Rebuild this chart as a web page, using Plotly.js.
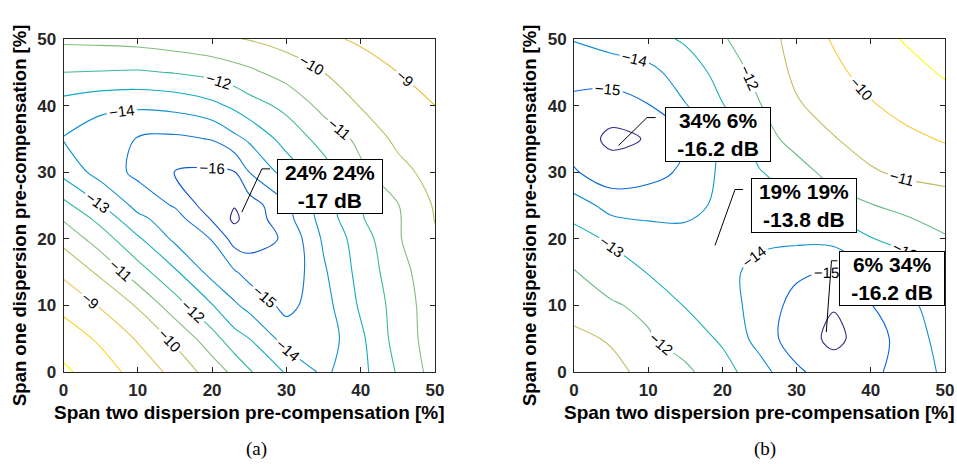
<!DOCTYPE html>
<html><head><meta charset="utf-8">
<script src="https://cdn.plot.ly/plotly-3.0.1.min.js"></script>
<style>html,body{margin:0;padding:0;background:#fff}#chart{width:957px;height:464px}</style>
</head><body><div id="chart"></div>
<script>
// ---------- data ----------
// (a) span two (x) / span one (y) dispersion pre-compensation [%], loss in dB
const spanTwoA = [0, 5, 10, 15, 20, 23, 25, 30, 35, 40, 45, 50];
const spanOneA = [0, 5, 10, 15, 20, 23, 25, 30, 35, 40, 45, 50];
const lossA = [
  [-6.8, -7.55, -8.35, -9.3, -10.45, -11.25, -11.9, -13.1, -14.2, -13.3, -11.9, -10.6],
  [-7.5, -8.15, -9.1, -10.2, -11.6, -12.6, -13.0, -14.4, -14.6, -13.2, -11.6, -10.5],
  [-8.25, -9.1, -10.1, -11.55, -12.95, -13.85, -14.3, -15.3, -14.4, -12.85, -11.6, -10.4],
  [-9.2, -10.2, -11.55, -12.85, -14.35, -14.9, -15.35, -15.8, -14.15, -12.65, -11.4, -10.3],
  [-10.3, -11.5, -12.85, -14.2, -15.05, -16.4, -16.5, -15.85, -13.85, -12.5, -11.1, -10.1],
  [-11.1, -12.3, -13.75, -14.55, -16.1, -17.2, -16.6, -15.35, -13.6, -12.1, -11.1, -9.97],
  [-11.7, -12.95, -14.3, -15.1, -16.6, -16.95, -16.5, -15.2, -13.4, -12.0, -11.05, -9.9],
  [-13.3, -14.4, -15.25, -16.05, -16.15, -16.05, -15.0, -13.6, -12.4, -11.2, -10.35, -9.6],
  [-14.05, -14.6, -15.05, -15.2, -14.95, -14.25, -13.85, -12.6, -11.65, -10.75, -9.75, -9.3],
  [-13.4, -13.75, -13.85, -13.7, -13.25, -12.8, -12.4, -11.75, -10.7, -9.95, -9.45, -9.0],
  [-12.0, -12.05, -12.1, -11.95, -11.7, -11.4, -11.2, -10.6, -10.0, -9.5, -9.0, -8.6],
  [-10.8, -10.75, -10.65, -10.45, -10.2, -10.05, -9.95, -9.6, -9.2, -8.85, -8.55, -8.2]
];
// (b)
const spanTwoB = [0, 5, 10, 15, 20, 25, 30, 35, 40, 45, 50];
const spanOneB = [0, 5, 10, 15, 20, 25, 30, 35, 40, 45, 50];
const lossB = [
  [-10.4, -10.7, -11.3, -11.8, -12.6, -13.6, -14.8, -15.6, -15.25, -14.5, -13.85],
  [-10.75, -11.1, -11.9, -12.45, -13.15, -14.35, -15.6, -16.2, -15.6, -14.4, -13.7],
  [-11.4, -11.9, -12.2, -13.05, -13.65, -14.3, -15.4, -15.95, -15.05, -14.25, -13.4],
  [-11.95, -12.45, -13.05, -13.35, -13.85, -14.15, -14.8, -15.0, -14.05, -13.6, -12.85],
  [-12.6, -13.15, -13.65, -13.85, -13.8, -13.9, -13.8, -13.7, -13.05, -12.6, -12.1],
  [-13.5, -14.35, -14.3, -14.15, -13.9, -13.55, -13.05, -12.6, -12.05, -11.7, -11.4],
  [-14.9, -15.6, -15.4, -14.8, -13.8, -13.05, -12.55, -11.5, -11.1, -10.8, -10.7],
  [-15.5, -16.2, -15.95, -15.0, -13.7, -12.6, -11.5, -11.05, -10.6, -10.25, -9.9],
  [-15.3, -15.6, -15.05, -14.05, -13.05, -12.05, -11.1, -10.6, -10.1, -9.6, -9.35],
  [-14.6, -14.4, -14.25, -13.6, -12.6, -11.7, -10.8, -10.25, -9.6, -9.3, -8.9],
  [-13.95, -13.7, -13.4, -12.85, -12.1, -11.4, -10.7, -9.9, -9.35, -8.9, -8.75]
];
const tickValues = [0, 10, 20, 30, 40, 50];
const tickLabels = ["0", "10", "20", "30", "40", "50"];
// data tips (span two x, span one y) and their texts
const tipAX = [24];
const tipAY = [24];
const tipAText = ["24% 24%<br>-17 dB"];
const tipBX = [6, 19, 34];
const tipBY = [34, 19, 6];
const tipBText = ["34% 6%<br>-16.2 dB", "19% 19%<br>-13.8 dB", "6% 34%<br>-16.2 dB"];

// ---------- layout helpers (positions / styles) ----------
const sans = 'Liberation Sans, Arial, sans-serif';
const parula = [
  [0, 'rgb(53,42,135)'], [0.125, 'rgb(3,99,225)'], [0.25, 'rgb(20,133,212)'],
  [0.375, 'rgb(6,167,198)'], [0.5, 'rgb(56,185,158)'], [0.625, 'rgb(146,191,115)'],
  [0.75, 'rgb(217,186,86)'], [0.875, 'rgb(252,206,46)'], [1, 'rgb(249,251,14)']
];
function contour(x, y, z, lo, hi, xa, ya) {
  return {
    type: 'contour', x: x, y: y, z: z, xaxis: xa, yaxis: ya,
    colorscale: parula, zauto: false, zmin: lo, zmax: hi, showscale: false,
    autocontour: false,
    contours: {start: lo, end: hi, size: 1, coloring: 'lines', showlabels: true,
      labelfont: {family: sans, size: 15, color: '#000'}},
    line: {width: 1.1, smoothing: 1}, hoverinfo: 'skip'
  };
}
const axBase = {
  range: [0, 50], tickvals: tickValues, ticktext: tickLabels, ticks: 'inside', ticklen: 5,
  tickwidth: 1, tickcolor: '#262626', showline: true, linecolor: '#262626', linewidth: 1,
  mirror: 'allticks', showgrid: false, zeroline: false, fixedrange: true,
  tickfont: {family: sans, size: 17, color: '#262626', weight: 'bold'}, ticklabelstandoff: 3
};
const yDom = [1 - 372 / 464, 1 - 39 / 464];
const layout = {
  width: 957, height: 464, margin: {l: 0, r: 0, t: 0, b: 0},
  paper_bgcolor: '#fff', plot_bgcolor: '#fff', showlegend: false,
  xaxis: Object.assign({}, axBase, {domain: [63.5 / 957, 435 / 957], anchor: 'y'}),
  yaxis: Object.assign({}, axBase, {domain: yDom, anchor: 'x'}),
  xaxis2: Object.assign({}, axBase, {domain: [574 / 957, 945 / 957], anchor: 'y2'}),
  yaxis2: Object.assign({}, axBase, {domain: yDom, anchor: 'x2'}),
  shapes: [], annotations: []
};
// box centre and elbow positions for the data-tip callouts (layout only)
const boxA = [{cx: 35.9, cy: 27.9, kx: 26.7, ex: 27.8, ky: 30.5}];
const boxB = [
  {cx: 19.4, cy: 35.6, kx: 9.84, ex: 11.0, ky: 38.2},
  {cx: 31.0, cy: 25.0, kx: 21.7, ex: 22.8, ky: 27.4},
  {cx: 42.9, cy: 14.0, kx: 34.7, ex: 35.5, ky: 16.7}
];
function addCallouts(tx, ty, txt, boxes, xr, yr) {
  tx.forEach(function (x, i) {
    const b = boxes[i];
    layout.shapes.push({type: 'path', xref: xr, yref: yr,
      path: 'M ' + x + ',' + ty[i] + ' L ' + b.kx + ',' + b.ky + ' L ' + b.ex + ',' + b.ky,
      line: {color: '#000', width: 1}});
    layout.annotations.push({xref: xr, yref: yr, x: b.cx, y: b.cy, text: txt[i], showarrow: false,
      font: {family: sans, size: 21, color: '#000', weight: 'bold'}, align: 'center',
      bgcolor: '#fff', bordercolor: '#000', borderwidth: 1, borderpad: 1, width: 102, height: 51});
  });
}
addCallouts(tipAX, tipAY, tipAText, boxA, 'x', 'y');
addCallouts(tipBX, tipBY, tipBText, boxB, 'x2', 'y2');

function txt(text, px, py, size, opts) {
  return Object.assign({xref: 'paper', yref: 'paper', x: px / 957, y: 1 - py / 464, text: text,
    showarrow: false, xanchor: 'center', yanchor: 'middle',
    font: {family: sans, size: size, color: '#000', weight: 'bold'}}, opts || {});
}
const serif = {family: 'Liberation Serif, Times New Roman, serif', size: 19, color: '#000'};
layout.annotations.push(txt('Span two dispersion pre-compensation [%]', 249.3, 412, 19));
layout.annotations.push(txt('Span two dispersion pre-compensation [%]', 759.5, 412, 19));
layout.annotations.push(txt('Span one dispersion pre-compensation [%]', 20, 216, 18.5, {textangle: -90}));
layout.annotations.push(txt('Span one dispersion pre-compensation [%]', 530, 216, 18.5, {textangle: -90}));
layout.annotations.push(txt('(a)', 256, 449, 19, {font: serif}));
layout.annotations.push(txt('(b)', 765, 449, 19, {font: serif}));

const data = [
  contour(spanTwoA, spanOneA, lossA, -17, -7, 'x', 'y'),
  contour(spanTwoB, spanOneB, lossB, -16, -9, 'x2', 'y2')
];
Plotly.newPlot('chart', data, layout, {staticPlot: true, displayModeBar: false});
</script>
</body></html>
